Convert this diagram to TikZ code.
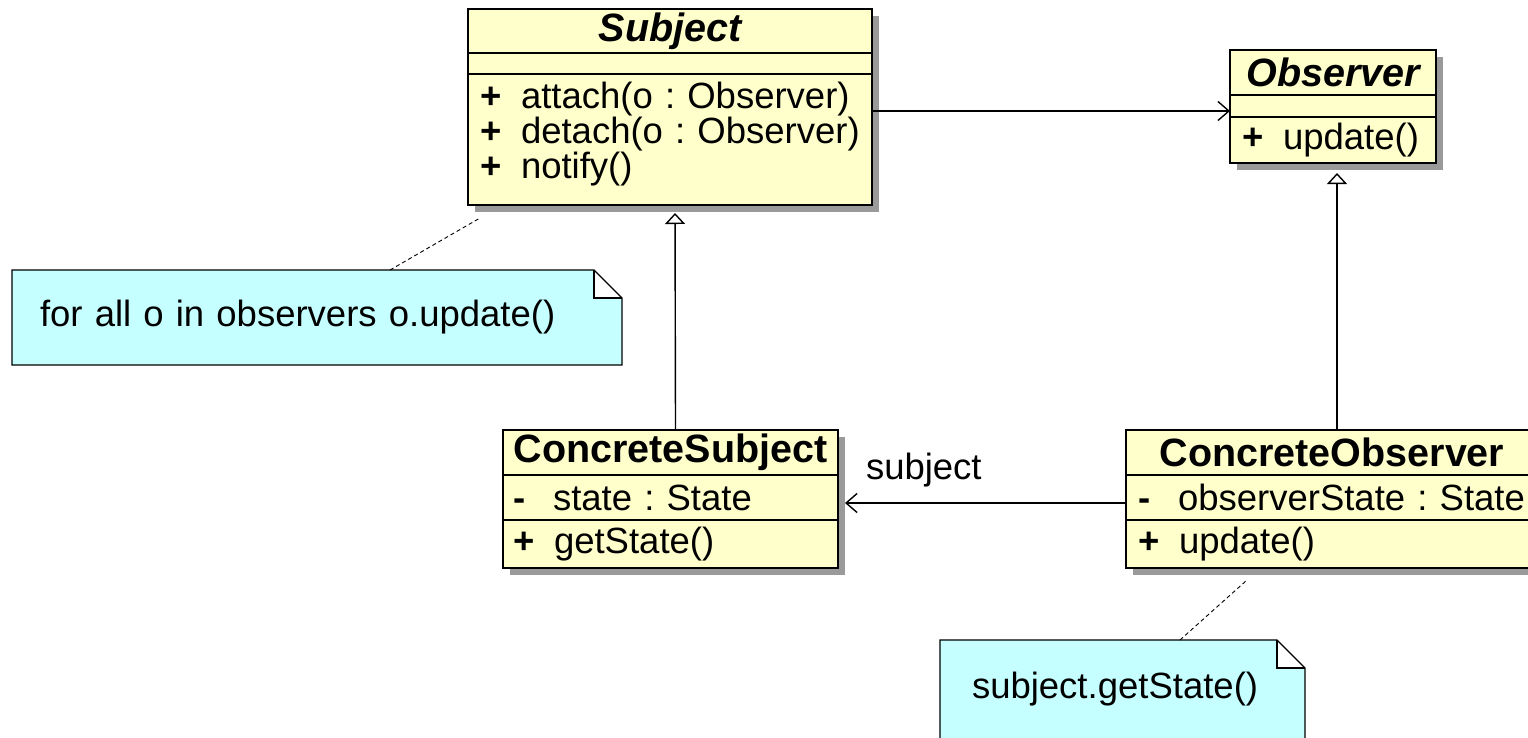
\documentclass[tikz,border=0pt]{standalone}
\usepackage{fontspec}
\setmainfont[WordSpace=0.8]{Liberation Sans}
\usepackage{tikz}
\usetikzlibrary{positioning,arrows.meta,shadows}

\definecolor{classyellow}{HTML}{FFFFCC}
\definecolor{notecyan}{HTML}{C6FFFF}
\definecolor{shadowgray}{HTML}{9A9A9A}

\newcommand{\pub}{\makebox[41pt][l]{\textbf{+}}}
\newcommand{\priv}{\makebox[40pt][l]{\textbf{-}}}
\frenchspacing

\begin{document}
\begin{tikzpicture}[x=1pt, y=-1pt]
        \tikzstyle{every node}=[font=\fontsize{36.5}{35}\selectfont, inner sep=0pt, outer sep=0pt]
        \tikzstyle{classbox}=[draw, line width=1.6pt, fill=classyellow, drop shadow={shadow xshift=7pt, shadow yshift=-7pt, fill=shadowgray, opacity=1}]
        \tikzstyle{classname}=[classbox, font=\fontsize{39.5}{40}\selectfont\bfseries]
        \tikzstyle{note}=[fill=notecyan, anchor=north west, align=left]
        \tikzstyle{noteline}=[line width=1.2pt]
        \tikzstyle{notelink}=[line width=0.9pt, dash pattern=on 4pt off 3pt]
        \tikzstyle{assoc}=[line width=1.4pt, -{Straight Barb[length=11pt, width=19pt]}]
        \tikzstyle{inherit}=[line width=1.4pt, -{Triangle[open, length=11pt, width=20pt, fill=white]}]

        \useasboundingbox (0,0) rectangle (1528,737);

        % Subject
        \node[classname, minimum width=404pt, minimum height=44pt, anchor=north west] (subj) at (468,9) {\itshape Subject};
        \node[classbox, minimum width=404pt, minimum height=21pt, below=0pt of subj] (subj attr) {};
        \node[classbox, minimum width=404pt, minimum height=131pt, text width=380pt, text depth=88pt, align=left, below=0pt of subj attr] (subj ops)
            {\mbox{\pub attach(o : Observer)}\\ \mbox{\pub detach(o : Observer)}\\ \mbox{\pub notify()}};

        % Observer
        \node[classname, minimum width=206pt, minimum height=45pt, anchor=north west] (obs) at (1230,50) {\itshape Observer};
        \node[classbox, minimum width=206pt, minimum height=22pt, below=0pt of obs] (obs attr) {};
        \node[classbox, minimum width=206pt, minimum height=46pt, text width=182pt, align=left, below=0pt of obs attr] (obs ops) {\mbox{\pub update()}};

        % ConcreteSubject
        \node[classname, minimum width=335pt, minimum height=45pt, anchor=north west] (csubj) at (503,430) {ConcreteSubject};
        \node[classbox, minimum width=335pt, minimum height=45pt, text width=315pt, align=left, below=0pt of csubj] (csubj attr) {\mbox{\priv state : State}};
        \node[classbox, minimum width=335pt, minimum height=48pt, text width=315pt, align=left, below=0pt of csubj attr] (csubj ops) {\mbox{\pub getState()}};

        % ConcreteObserver
        \node[classname, minimum width=412pt, minimum height=45pt, anchor=north west] (cobs) at (1126,430) {ConcreteObserver};
        \node[classbox, minimum width=412pt, minimum height=45pt, text width=388pt, align=left, below=0pt of cobs] (cobs attr) {\mbox{\priv observerState : State}};
        \node[classbox, minimum width=412pt, minimum height=48pt, text width=388pt, align=left, below=0pt of cobs attr] (cobs ops) {\mbox{\pub update()}};

        % notes
        \node[note, minimum width=610pt, minimum height=95pt, text width=554pt] (note1) at (12,270) {for all o in observers o.update()};
        \fill[white] ([xshift=-28pt]note1.north east) rectangle ([yshift=-28pt]note1.north east);
        \draw[noteline] (note1.south west) -- (note1.north west) -- ([xshift=-28pt]note1.north east) -- ([yshift=-28pt]note1.north east) -- (note1.south east) -- cycle;
        \draw[noteline] ([xshift=-28pt]note1.north east) |- ([yshift=-28pt]note1.north east);

        \node[note, minimum width=365pt, text width=301pt, text height=58pt, text depth=60pt] (note2) at (940,640) {subject.getState()};
        \fill[white] ([xshift=-28pt]note2.north east) rectangle ([yshift=-28pt]note2.north east);
        \draw[noteline] (note2.south west) -- (note2.north west) -- ([xshift=-28pt]note2.north east) -- ([yshift=-28pt]note2.north east) -- (note2.south east) -- cycle;
        \draw[noteline] ([xshift=-28pt]note2.north east) |- ([yshift=-28pt]note2.north east);

        % connectors
        \draw[assoc] ([yshift=28.5pt]subj ops.east) -- ([yshift=-5pt]obs attr.west);
        \draw[inherit, shorten >=8pt] ([xshift=5pt]csubj.north) -- ([xshift=5pt]subj ops.south);
        \draw[inherit, shorten >=10pt] ([xshift=5pt]cobs.north) -- ([xshift=4pt]obs ops.south);
        \draw[assoc, shorten >=7pt] ([yshift=-5.5pt]cobs attr.west) -- ([yshift=-5.5pt]csubj attr.east)
            node[pos=1, anchor=south west, xshift=28pt, yshift=16pt] (assoc label) {subject};

        \draw[notelink] ([xshift=73pt]note1.north) -- ([xshift=12pt, yshift=-13pt]subj ops.south west);
        \draw[notelink] ([xshift=240pt]note2.north west) -- ([xshift=121pt, yshift=-12pt]cobs ops.south west);
\end{tikzpicture}
\end{document}
